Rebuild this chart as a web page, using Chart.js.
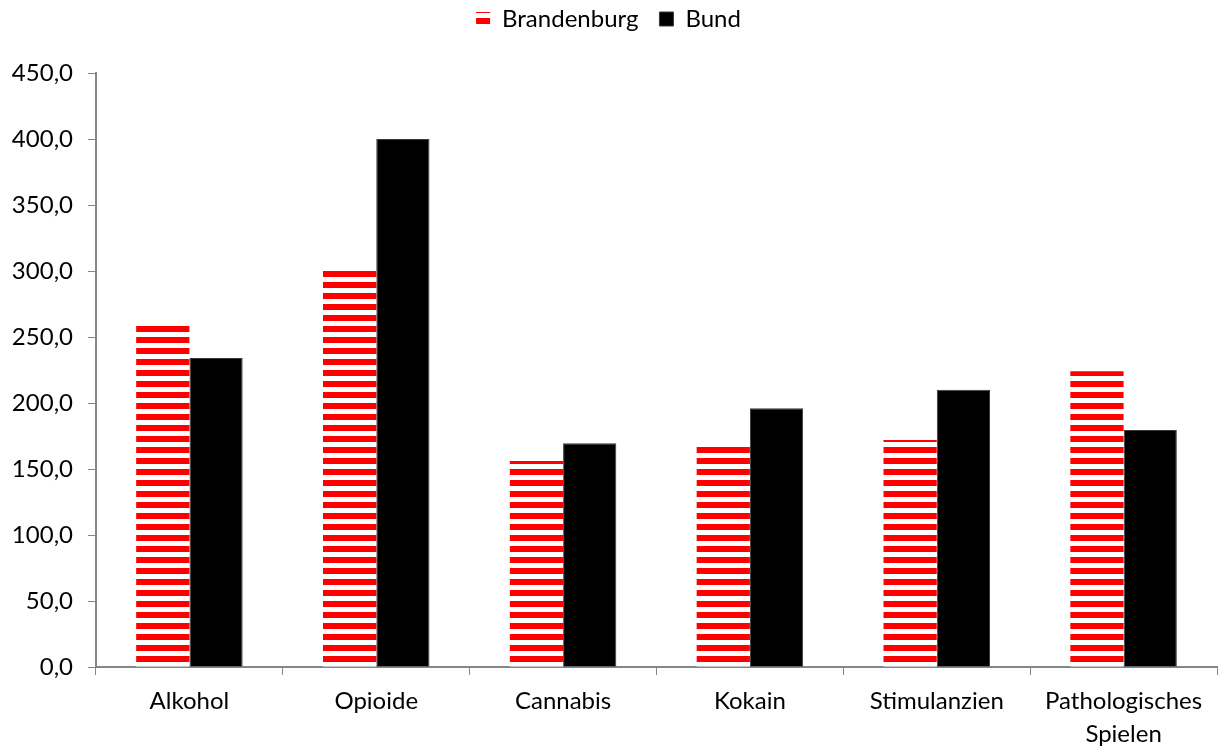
<!DOCTYPE html>
<html>
<head>
<meta charset="utf-8">
<script src="https://cdn.jsdelivr.net/npm/chart.js@4/dist/chart.umd.min.js"></script>
<style>
  html, body { margin: 0; padding: 0; background: #fff; }
  #wrap { width: 1219px; height: 747px; }
</style>
</head>
<body>
<div id="wrap"><canvas id="myChart" width="1219" height="747"></canvas></div>
<script>
var categories = ['Alkohol', 'Opioide', 'Cannabis', 'Kokain', 'Stimulanzien', ['Pathologisches', 'Spielen']];
var brandenburg = [259.0, 300.5, 156.0, 167.0, 172.0, 224.0];
var bund = [234.0, 400.0, 169.5, 196.0, 210.0, 179.5];
var yTicks = [0, 50, 100, 150, 200, 250, 300, 350, 400, 450];

// horizontal red/white stripes, like the Excel pattern fill
function stripes() {
    var c = document.createElement('canvas');
    c.width = 4; c.height = 11;
    var g = c.getContext('2d');
    g.fillStyle = '#fff';
    g.fillRect(0, 0, 4, 11);
    g.fillStyle = '#ff0000';
    g.fillRect(0, 7, 4, 4);
    g.fillRect(0, 0, 4, 2);
    return g.createPattern(c, 'repeat');
}

// give the legend a fixed height so the plot starts lower
var legendHeight = {
    id: 'legendHeight',
    beforeInit: function (chart) {
        var fit = chart.legend.fit;
        chart.legend.fit = function () {
            fit.bind(chart.legend)();
            this.height = 87;
        };
    }
};

Chart.defaults.font.family = 'Lato, "Open Sans", sans-serif';
Chart.defaults.color = '#000';

var ctx = document.getElementById('myChart').getContext('2d');
var myChart = new Chart(ctx, {
    type: 'bar',
    data: {
        labels: categories,
        datasets: [{
            label: 'Brandenburg',
            data: brandenburg,
            backgroundColor: stripes(),
            borderWidth: 0
        }, {
            label: 'Bund',
            data: bund,
            backgroundColor: '#000',
            borderColor: '#3a3a3a',
            borderWidth: 1
        }]
    },
    options: {
        responsive: false,
        animation: false,
        layout: { padding: { left: 0, right: 2, top: -14, bottom: 0 } },
        datasets: { bar: { barPercentage: 1, categoryPercentage: 0.57 } },
        plugins: {
            tooltip: { enabled: false },
            legend: {
                position: 'top',
                labels: {
                    boxWidth: 14,
                    boxHeight: 14,
                    padding: 21,
                    font: { size: 24 },
                    color: '#000'
                }
            }
        },
        scales: {
            x: {
                grid: {
                    display: true,
                    drawOnChartArea: false,
                    drawTicks: true,
                    tickLength: 8,
                    tickColor: '#868686',
                    offset: true
                },
                border: { color: '#868686', width: 2 },
                ticks: { font: { size: 24, lineHeight: 1.38 }, padding: 10, color: '#000', maxRotation: 0 },
                afterFit: function (s) { s.height = 80; }
            },
            y: {
                min: 0,
                max: 450,
                afterBuildTicks: function (s) {
                    s.ticks = yTicks.map(function (v) { return { value: v }; });
                },
                grid: {
                    display: true,
                    drawOnChartArea: false,
                    drawTicks: true,
                    tickLength: 8,
                    tickColor: '#868686'
                },
                border: { color: '#868686', width: 2 },
                ticks: {
                    font: { size: 24 },
                    padding: 15,
                    color: '#000',
                    callback: function (v) { return v.toFixed(1).replace('.', ','); }
                },
                afterFit: function (s) { s.width = 96; }
            }
        }
    },
    plugins: [legendHeight]
});
</script>
</body>
</html>
